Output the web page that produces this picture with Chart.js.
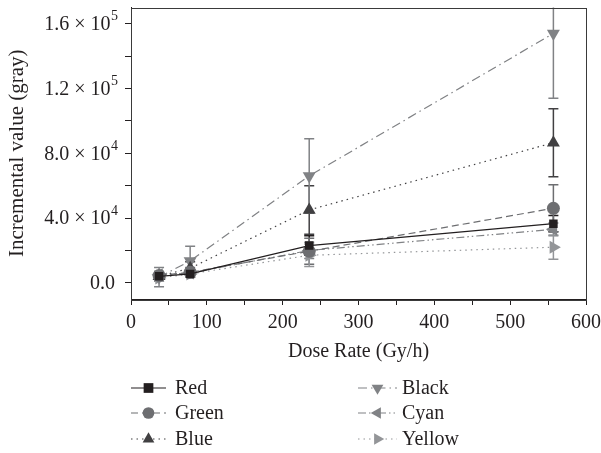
<!DOCTYPE html>
<html>
<head>
<meta charset="utf-8">
<script src="https://cdn.jsdelivr.net/npm/chart.js@4/dist/chart.umd.min.js"></script>
<style>
    html, body { margin: 0; padding: 0; background: #fff; }
</style>
</head>
<body>
<canvas id="doseChart" width="601" height="453"></canvas>
<script>
// ---- data ----
const doseRates = [37, 78, 235, 557];

const redValues    = [4000, 5500, 23000, 36500];
const greenValues  = [4500, 6500, 19500, 46000];
const blueValues   = [4000, 9000, 45000, 86500];
const blackValues  = [3500, 13500, 66000, 154000];
const cyanValues   = [5000, 6000, 20000, 33000];
const yellowValues = [3000, 5500, 17000, 22000];

const redErrors    = [2000, 2000, 6000, 5000];
const greenErrors  = [2000, 3000, 8000, 14500];
const blueErrors   = [3000, 4000, 15000, 21000];
const blackErrors  = [6000, 9000, 23000, 40000];
const cyanErrors   = [2000, 2000, 5000, 4000];
const yellowErrors = [2000, 2000, 7000, 7500];

const yTickValues    = [0, 40000, 80000, 120000, 160000];
const yTickMantissas = ['0.0', '4.0 \u00d7 10', '8.0 \u00d7 10', '1.2 \u00d7 10', '1.6 \u00d7 10'];
const yTickExponents = ['', '4', '4', '5', '5'];
const xTickLabels    = ['0', '100', '200', '300', '400', '500', '600'];

const FONT = "'Liberation Serif', 'DejaVu Serif', serif";
const INK = '#231f20';

function makeSet(label, values, errors, color, dash, style, rotation, radius) {
    return {
        label: label,
        data: doseRates.map((x, i) => ({ x: x, y: values[i] })),
        errors: errors,
        borderColor: color,
        backgroundColor: color,
        borderWidth: 1.2,
        borderDash: dash,
        pointStyle: style,
        pointRotation: rotation,
        pointRadius: radius,
        pointBorderWidth: 0,
        pointBackgroundColor: color,
        showLine: true,
        tension: 0
    };
}

const datasets = [
    makeSet('Red',    redValues,    redErrors,    '#231f20', [],             'rect',     0,   6),
    makeSet('Green',  greenValues,  greenErrors,  '#6d6e71', [7, 4],         'circle',   0,   6.5),
    makeSet('Blue',   blueValues,   blueErrors,   '#414042', [1.5, 4],       'triangle', 0,   7.5),
    makeSet('Black',  blackValues,  blackErrors,  '#808285', [9, 4, 1.5, 4], 'triangle', 180, 7.5),
    makeSet('Cyan',   cyanValues,   cyanErrors,   '#808285', [8, 3, 1.5, 3, 1.5, 3], 'triangle', 270, 7.5),
    makeSet('Yellow', yellowValues, yellowErrors, '#939598', [1.5, 4],       'triangle', 90,  7.5)
];

// error bars drawn under the markers
const errorBars = {
    id: 'errorBars',
    beforeDatasetsDraw(chart) {
        const ctx = chart.ctx;
        const area = chart.chartArea;
        const yScale = chart.scales.y;
        ctx.save();
        ctx.beginPath();
        ctx.rect(area.left, area.top, area.right - area.left, area.bottom - area.top);
        ctx.clip();
        chart.data.datasets.forEach((ds, di) => {
            const meta = chart.getDatasetMeta(di);
            ctx.strokeStyle = ds.borderColor;
            ctx.lineWidth = 1.5;
            ctx.setLineDash([]);
            meta.data.forEach((pt, i) => {
                const v = ds.data[i].y;
                const e = ds.errors[i];
                const top = yScale.getPixelForValue(v + e);
                const bot = yScale.getPixelForValue(v - e);
                ctx.beginPath();
                ctx.moveTo(pt.x, top);
                ctx.lineTo(pt.x, bot);
                ctx.moveTo(pt.x - 5, top);
                ctx.lineTo(pt.x + 5, top);
                ctx.moveTo(pt.x - 5, bot);
                ctx.lineTo(pt.x + 5, bot);
                ctx.stroke();
            });
        });
        ctx.restore();
    }
};

// box round the plot area + y labels with real superscripts
const frame = {
    id: 'frame',
    afterDraw(chart) {
        const ctx = chart.ctx;
        const a = chart.chartArea;
        ctx.save();
        ctx.strokeStyle = '#3a3a3a';
        ctx.lineWidth = 1;
        ctx.strokeRect(Math.round(a.left) + 0.5, Math.round(a.top) + 0.5,
            Math.round(a.right - a.left), Math.round(a.bottom - a.top));

        const yScale = chart.scales.y;
        const right = a.left - 13;
        ctx.fillStyle = INK;
        ctx.textBaseline = 'middle';
        yTickValues.forEach((v, k) => {
            const y = yScale.getPixelForValue(v);
            let x = right;
            if (yTickExponents[k]) {
                ctx.font = '14px ' + FONT;
                ctx.textAlign = 'right';
                ctx.fillText(yTickExponents[k], x, y - 7);
                x -= ctx.measureText(yTickExponents[k]).width + 0.5;
            } else {
                x -= 3;
            }
            ctx.font = '20px ' + FONT;
            ctx.textAlign = 'right';
            ctx.fillText(yTickMantissas[k], x, y + 1);
        });
        ctx.restore();
    }
};

function drawMarker(ctx, ds, x, y) {
    const r = ds.pointRadius * 0.9;
    ctx.save();
    ctx.translate(x, y);
    ctx.rotate(ds.pointRotation * Math.PI / 180);
    ctx.fillStyle = ds.backgroundColor;
    ctx.beginPath();
    if (ds.pointStyle === 'rect') {
        const s = r * 0.9;
        ctx.rect(-s, -s, 2 * s, 2 * s);
    } else if (ds.pointStyle === 'circle') {
        ctx.arc(0, 0, r, 0, Math.PI * 2);
    } else {
        ctx.moveTo(0, -r);
        ctx.lineTo(r * 0.87, r * 0.5);
        ctx.lineTo(-r * 0.87, r * 0.5);
        ctx.closePath();
    }
    ctx.fill();
    ctx.restore();
}

// two-column legend under the axis title
const columnLegend = {
    id: 'columnLegend',
    afterDraw(chart) {
        const ctx = chart.ctx;
        const cols = [{ x0: 131, x1: 166, tx: 175 }, { x0: 358, x1: 397, tx: 402 }];
        const rows = [388, 413, 439];
        ctx.save();
        ctx.font = '20px ' + FONT;
        ctx.textBaseline = 'middle';
        chart.data.datasets.forEach((ds, i) => {
            const c = cols[Math.floor(i / 3)];
            const y = rows[i % 3];
            ctx.strokeStyle = ds.borderColor;
            ctx.lineWidth = 1.2;
            ctx.setLineDash(ds.borderDash);
            ctx.beginPath();
            ctx.moveTo(c.x0, y);
            ctx.lineTo(c.x1, y);
            ctx.stroke();
            ctx.setLineDash([]);
            drawMarker(ctx, ds, (c.x0 + c.x1) / 2, y);
            ctx.fillStyle = INK;
            ctx.fillText(ds.label, c.tx, y + 1);
        });
        ctx.restore();
    }
};

new Chart(document.getElementById('doseChart'), {
    type: 'scatter',
    data: { datasets: datasets },
    plugins: [errorBars, frame, columnLegend],
    options: {
        responsive: false,
        animation: false,
        layout: { padding: { left: 0, top: 6, right: 15, bottom: 89 } },
        plugins: {
            legend: { display: false },
            tooltip: { enabled: false }
        },
        scales: {
            x: {
                type: 'linear',
                min: 0,
                max: 600,
                afterBuildTicks: (scale) => {
                    const t = [];
                    for (let v = 0; v <= 600; v += 50) t.push({ value: v });
                    scale.ticks = t;
                },
                afterFit: (scale) => {
                    scale.height = 65;
                    scale.paddingLeft = 0;
                    scale.paddingRight = 0;
                },
                ticks: {
                    autoSkip: false,
                    maxRotation: 0,
                    padding: 6,
                    color: INK,
                    font: { family: FONT, size: 20 },
                    callback: (v) => (v % 100 === 0 ? xTickLabels[v / 100] : '')
                },
                grid: { drawOnChartArea: false, tickLength: 6, color: INK, tickWidth: 1 },
                border: { display: true, color: INK, width: 1 },
                title: {
                    display: true,
                    text: 'Dose Rate (Gy/h)',
                    color: INK,
                    font: { family: FONT, size: 20 },
                    padding: { top: 0, bottom: 0 }
                }
            },
            y: {
                type: 'linear',
                min: -10000,
                max: 170000,
                afterBuildTicks: (scale) => {
                    const t = [];
                    for (let v = 0; v <= 160000; v += 20000) t.push({ value: v });
                    scale.ticks = t;
                },
                afterFit: (scale) => {
                    scale.width = 131;
                    scale.paddingTop = 0;
                    scale.paddingBottom = 0;
                },
                ticks: {
                    autoSkip: false,
                    padding: 10,
                    color: INK,
                    font: { family: FONT, size: 20 },
                    callback: () => ''
                },
                grid: { drawOnChartArea: false, tickLength: 6, color: INK, tickWidth: 1 },
                border: { display: true, color: INK, width: 1 },
                title: {
                    display: true,
                    text: 'Incremental value (gray)',
                    color: INK,
                    font: { family: FONT, size: 21 },
                    padding: { top: 5, bottom: 0 }
                }
            }
        }
    }
});
</script>
</body>
</html>
